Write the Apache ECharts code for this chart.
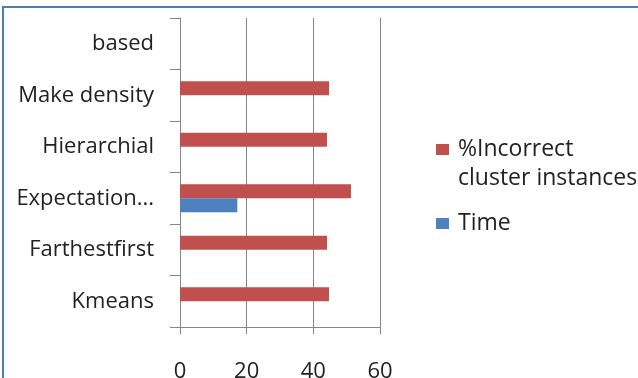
<!DOCTYPE html>
<html>
<head>
<meta charset="utf-8">
<style>
  html, body { margin: 0; padding: 0; background: #fff; }
  #chart { width: 638px; height: 378px; }
</style>
<script src="https://cdn.jsdelivr.net/npm/echarts@6/dist/echarts.min.js"></script>
</head>
<body>
<div id="chart"></div>
<script>
// Clustering algorithms, listed bottom to top on the category axis
const categories = ['Kmeans', 'Farthestfirst', 'Expectation...', 'Hierarchial', 'Make density', 'based'];
// Seconds taken to build each model
const timeValues = [null, null, 17.2, null, null, null];
// Share of instances assigned to the wrong cluster (%)
const incorrectValues = [44.7, 44.1, 51.3, 44.1, 44.7, null];
// Value axis ticks
const xTicks = [0, 20, 40, 60];

const FONT = '"Open Sans"';
const INCORRECT = '%Incorrect\ncluster instances';
const chart = echarts.init(document.getElementById('chart'), null, { renderer: 'canvas' });
chart.setOption({
  animation: false,
  backgroundColor: '#fff',
  graphic: [{
    type: 'rect',
    shape: { x: 3, y: 7, width: 700, height: 400 },
    style: { fill: 'none', stroke: '#4a7ebb', lineWidth: 2 },
    silent: true,
    z: -1
  }],
  grid: { left: 180, right: 258, top: 18, bottom: 51, containLabel: false, outerBoundsMode: 'none' },
  legend: {
    orient: 'vertical',
    left: 436,
    top: 106,
    padding: 0,
    itemWidth: 13,
    itemHeight: 11,
    itemGap: 16,
    icon: 'rect',
    textStyle: { fontFamily: FONT, fontSize: 23, color: '#222', lineHeight: 29, padding: [0, 0, 0, 4] },
    // keep the swatch level with the first line of a wrapped name
    formatter: function (name) {
      return name.indexOf('\n') >= 0 ? '\n' + name : name;
    },
    data: [INCORRECT, 'Time']
  },
  xAxis: {
    type: 'value',
    min: xTicks[0],
    max: xTicks[xTicks.length - 1],
    interval: xTicks[1] - xTicks[0],
    axisLine: { show: true, lineStyle: { color: '#868686' } },
    axisTick: { show: true, length: 7, lineStyle: { color: '#868686' } },
    splitLine: { show: true, lineStyle: { color: '#868686', width: 1 } },
    axisLabel: { margin: 34, fontFamily: FONT, fontSize: 22, lineHeight: 22, color: '#222' }
  },
  yAxis: {
    type: 'category',
    data: categories,
    axisLine: { show: true, lineStyle: { color: '#868686' } },
    axisTick: { show: true, length: 10, lineStyle: { color: '#868686' } },
    axisLabel: { margin: 26, fontFamily: FONT, fontSize: 22, color: '#222' }
  },
  series: [
    {
      name: INCORRECT,
      type: 'bar',
      data: incorrectValues,
      barWidth: 14,
      barGap: '0%',
      itemStyle: { color: '#c0504d' }
    },
    {
      name: 'Time',
      type: 'bar',
      data: timeValues,
      barWidth: 14,
      barGap: '0%',
      itemStyle: { color: '#4f81bd' }
    }
  ]
});
</script>
</body>
</html>
